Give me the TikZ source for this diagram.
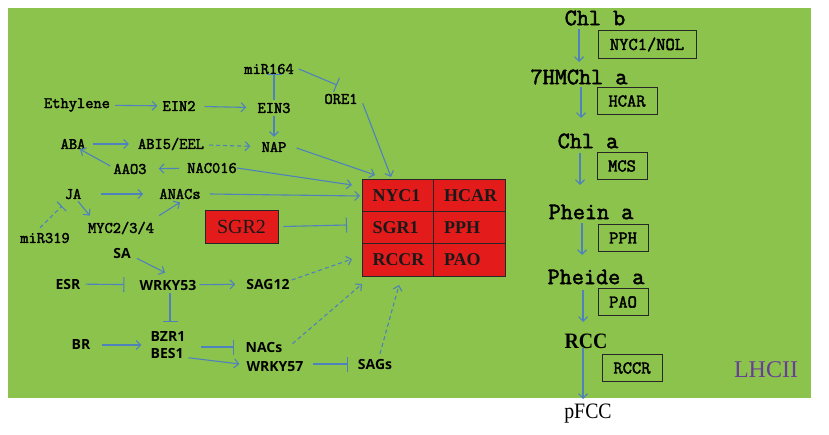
\documentclass[tikz,border=0pt]{standalone}
\usepackage{fontspec}
\setmainfont{Liberation Serif}
\newfontfamily\monof[FakeBold=2.2]{Latin Modern Mono}
\newfontfamily\sansf{Open Sans}
\newfontfamily\narrowf[FakeStretch=0.9]{Liberation Serif}
\usetikzlibrary{arrows.meta,calc}
\definecolor{bgc}{RGB}{139,195,76}
\definecolor{redbox}{RGB}{228,27,27}
\definecolor{arrc}{RGB}{79,129,189}
\definecolor{lhc}{RGB}{104,62,150}
\begin{document}
\begin{tikzpicture}[x=1pt,y=-1pt,
 lbl/.style={font=\monof\fontsize{16}{16}\selectfont, inner xsep=5pt, inner ysep=3pt},
 slbl/.style={font=\sansf\bfseries\fontsize{14}{17}\selectfont, inner xsep=5pt, inner ysep=3pt},
 arr/.style={draw=arrc, line width=1.1pt, -{Straight Barb[length=4.5pt,width=9pt]}},
 inh/.style={draw=arrc, line width=1.1pt, -{Bar[width=15pt]}},
 dsh/.style={dash pattern=on 4pt off 3pt},
 cell/.style={draw=black!85, fill=redbox, line width=0.8pt, text width=50.5pt, align=left,
   inner xsep=10.5pt, inner ysep=0pt, minimum height=32.3pt, font=\bfseries\fontsize{18}{18}\selectfont, text=black!90},
 rlbl/.style={font=\monof\fontsize{23.5}{23.5}\selectfont, inner sep=1pt},
 ebox/.style={draw=black!85, line width=1pt, font=\monof\fontsize{18}{18}\selectfont, inner sep=0pt, minimum height=27.5pt},
]
\useasboundingbox (0,0) rectangle (829,435);
\fill[white] (0,0) rectangle (829,435);
\fill[bgc] (8,8) rectangle (811,398);

% ---------- left network (mono labels)
\node[lbl] (eth) at (77,105) {Ethylene};
\node[lbl] (ein2) at (179,106) {EIN2};
\node[lbl] (ein3) at (274,108) {EIN3};
\node[lbl] (mir164) at (269,69) {miR164};
\node[lbl] (ore1) at (341,99) {ORE1};
\node[lbl] (nap) at (274,147) {NAP};
\node[lbl] (abi) at (171,144) {ABI5/EEL};
\node[lbl] (aba) at (73,144) {ABA};
\node[lbl] (aao3) at (130,169) {AAO3};
\node[lbl] (nac016) at (212,168) {NAC016};
\node[lbl] (ja) at (73,194) {JA};
\node[lbl] (anacs) at (180,194) {ANACs};
\node[lbl] (myc) at (121,228) {MYC2/3/4};
\node[lbl] (mir319) at (45,238) {miR319};

% ---------- sans labels
\node[slbl] (sa) at (122,254) {SA};
\node[slbl] (esr) at (68,284) {ESR};
\node[slbl] (wrky53) at (168,285) {WRKY53};
\node[slbl] (sag12) at (268,284) {SAG12};
\node[slbl, align=left] (bzr) at (168,345) {BZR1\\BES1};
\node[slbl] (br) at (81,345) {BR};
\node[slbl] (nacs) at (264,347) {NACs};
\node[slbl] (wrky57) at (275,367) {WRKY57};
\node[slbl] (sags) at (375,364) {SAGs};

% ---------- red grid
\node[cell] (c11) at (397.75,195.15) {NYC1};
\node[cell] (c12) at (469.25,195.15) {HCAR};
\node[cell] (c21) at (397.75,227.5) {SGR1};
\node[cell] (c22) at (469.25,227.5) {PPH};
\node[cell] (c31) at (397.75,259.85) {RCCR};
\node[cell] (c32) at (469.25,259.85) {PAO};
\node[draw=black!85, fill=redbox, line width=0.8pt, minimum width=73pt, minimum height=33pt,
      font=\fontsize{20}{20}\selectfont, text=black!90] (sgr2) at (241.5,226.5) {SGR2};

% target points at the grid
\coordinate (t1) at (391,177);
\coordinate (t2) at (375,175);
\coordinate (t3) at (352,185);
\coordinate (t4) at (360,196);
\coordinate (t5) at (352,259);
\coordinate (t6) at (362,284);
\coordinate (t7) at (399,285);
\coordinate (tb) at (347,225);
\coordinate (b164) at (337,85);
\coordinate (b319) at (62,206);

% ---------- connectors (left)
\draw[arr] (eth) -- (ein2);
\draw[arr, shorten <=4pt, shorten >=6pt] (ein2) -- (ein3);
\draw[inh, shorten >=-3pt] (ein3.north) -- (ein3.north |- mir164.south);
\draw[arr, shorten >=2pt] (ein3.south) -- (nap.north);
\draw[inh] (mir164.east) -- (b164);
\draw[arr] ($(ore1.south east)+(0,-4)$) -- (t1);
\draw[arr] ($(nap.east)+(5,1)$) -- (t2);
\draw[arr, dsh, shorten >=6pt] (abi) -- (nap);
\draw[arr, shorten <=2pt, shorten >=4pt] (aba) -- (abi);
\draw[arr] ($(aao3.west)+(2,-3)$) -- ($(aba.south)+(7,-3)$);
\draw[arr, shorten <=3pt, shorten >=7pt] (nac016) -- (aao3);
\draw[arr] ($(nac016.east)+(-5,0)$) -- (t3);
\draw[arr, shorten <=15pt, shorten >=11pt] (ja) -- (anacs);
\draw[arr] ($(anacs.east)+(4,0)$) -- (t4);
\draw[arr] ($(ja.south)+(5,-1)$) -- ($(myc.north west)+(7,-3)$);
\draw[arr] ($(myc.north east)+(0,-3)$) -- (anacs.south);
\draw[inh, dsh, -{Bar[width=13pt]}] ($(mir319.north)+(-5,-2)$) -- (b319);
\draw[inh] ($(sgr2.east)+(5,0)$) -- (tb);

% ---------- connectors (sans part)
\draw[arr] ($(sa.south east)+(1,-4)$) -- ($(wrky53.north)+(-3,-4)$);
\draw[inh, shorten >=10pt] (esr) -- (wrky53);
\draw[arr, shorten <=-2pt, shorten >=6pt] (wrky53) -- (sag12);
\draw[arr, dsh] ($(sag12.east)+(-3,-4)$) -- (t5);
\draw[inh, shorten >=6pt] ($(wrky53.south)+(2,0)$) -- ($(bzr.north)+(2,0)$);
\draw[arr, shorten <=6pt, shorten >=4pt] (br) -- (br -| bzr.west);
\draw[inh, shorten <=10pt, shorten >=6pt] (bzr.east |- nacs.west) -- (nacs.west);
\draw[arr] ($(bzr.south east)+(-2,-4)$) -- ($(wrky57.west)+(-2,-3)$);
\draw[inh, shorten <=4pt, shorten >=5pt] (wrky57.east |- sags.west) -- (sags.west);
\draw[arr, dsh] ($(nacs.north east)+(5,5)$) -- (t6);
\draw[arr, dsh] ($(sags.north)+(5,-2)$) -- (t7);

% ---------- right column
\node[rlbl] (chlb) at (595,18) {Chl b};
\node[rlbl] (hm) at (579,77) {7HMChl a};
\node[rlbl] (chla) at (588,141) {Chl a};
\node[rlbl] (phein) at (591,212) {Phein a};
\node[rlbl] (pheide) at (596,277) {Pheide a};
\node[font=\narrowf\bfseries\fontsize{22}{22}\selectfont, inner sep=1pt] (rcc) at (586,341) {RCC};
\node[font=\narrowf\fontsize{22}{22}\selectfont, inner sep=1pt] (pfcc) at (588,414) {pFCC};
\node[font=\fontsize{24}{24}\selectfont, text=lhc, inner sep=0pt] (lhcii) at (766,370) {LHCII};

\node[ebox, minimum width=98pt] (e1) at (647,44.5) {NYC1/NOL};
\node[ebox, minimum width=60pt] (e2) at (627,101) {HCAR};
\node[ebox, minimum width=50pt] (e3) at (622,166) {MCS};
\node[ebox, minimum width=50pt] (e4) at (623,238) {PPH};
\node[ebox, minimum width=50pt] (e5) at (623,302) {PAO};
\node[ebox, minimum width=60pt] (e6) at (632,368) {RCCR};

\coordinate (r1a) at (579,29);  \coordinate (r1b) at (579,62);
\coordinate (r2a) at (581,87);  \coordinate (r2b) at (581,118);
\coordinate (r3a) at (580,153); \coordinate (r3b) at (580,185);
\coordinate (r4a) at (582,223); \coordinate (r4b) at (582,255);
\coordinate (r5a) at (583,290); \coordinate (r5b) at (583,322);
\coordinate (r6a) at (583,348); \coordinate (r6b) at (583,399);
\foreach \i in {1,...,6} {\draw[arr] (r\i a) -- (r\i b);}
\end{tikzpicture}
\end{document}
